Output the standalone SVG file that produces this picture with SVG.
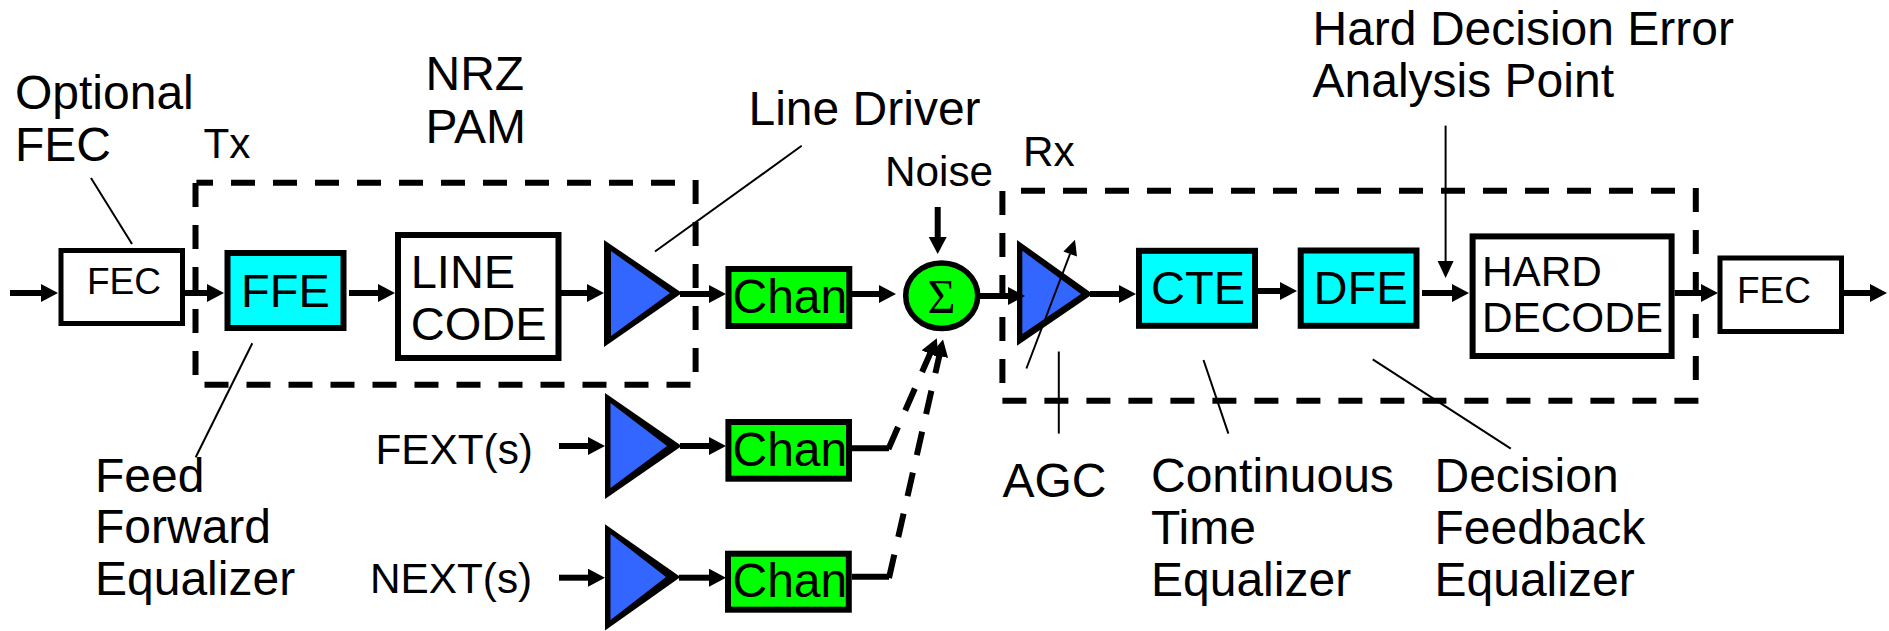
<svg xmlns="http://www.w3.org/2000/svg" width="1889" height="631" viewBox="0 0 1889 631">
<style>
text{font-family:"Liberation Sans",Arial,sans-serif;fill:#000}
.l{font-size:48px}.m{font-size:42.3px}.b{font-size:47px}.s{font-size:37px}
.box{stroke:#000;stroke-width:6;fill:#fff}
.thin{stroke:#000;stroke-width:5;fill:#fff}
.cy{fill:#0ff}.gr{fill:#0f0}
.to{fill:#000}.ti{fill:#36f}
.a{stroke:#000;stroke-width:6;fill:none}
.h{stroke:#000;stroke-width:2;fill:none}
.d{stroke:#000;stroke-width:6;fill:none;stroke-dasharray:24 18}
</style>
<defs>
<marker id="ah" markerUnits="userSpaceOnUse" markerWidth="20" markerHeight="20" refX="1" refY="9" orient="auto"><path d="M0 0L17 9L0 18z" fill="#000"/></marker>
<marker id="ai" markerUnits="userSpaceOnUse" markerWidth="20" markerHeight="20" refX="1" refY="8" orient="auto"><path d="M0 0L17 8L0 16z" fill="#000"/></marker>
</defs>
<g id="tx-boundary">
<path class="a" d="M196.4 182.7H213"/><path class="d" d="M231 182.7H676"/><path class="d" d="M204.5 384.7H691"/>
<path class="d" d="M195.5 183V375"/><path class="d" d="M695.6 180V373"/>
</g>
<g id="rx-boundary">
<path class="d" d="M1021 190.8H1676"/><path class="d" d="M1002.4 400.7H1699"/>
<path class="d" d="M1002.4 191V384"/><path class="d" d="M1695.8 188V380"/>
</g>
<g id="fec-tx"><rect class="thin" x="61" y="250.5" width="121.5" height="73"/><text class="s" x="87" y="294">FEC</text></g>
<g id="ffe"><rect class="box cy" x="227.5" y="253" width="116" height="75"/><text class="b" x="241" y="306.7">FFE</text></g>
<g id="line-code"><rect class="box" x="398" y="235" width="160.5" height="123"/><text class="b" x="410.7" y="288">LINE</text><text class="b" x="410.7" y="340">CODE</text></g>
<g id="driver"><path class="to" d="M604 240V347L682 293z"/><path class="ti" d="M611 251V336L670 293z"/></g>
<g id="chan-1"><rect class="box gr" x="728.5" y="269" width="120.8" height="57"/><text class="l" x="732.5" y="313">Chan</text></g>
<g id="sum"><ellipse cx="941.7" cy="295.7" rx="36" ry="32.8" fill="#0f0" stroke="#000" stroke-width="5.5"/><text x="941.5" y="313" text-anchor="middle" style="font-family:'Liberation Serif',serif;font-size:48px">Σ</text></g>
<g id="agc"><path class="to" d="M1017 240V345.8L1092.8 294z"/><path class="ti" d="M1022.3 250.8V334L1081 294z"/></g>
<g id="cte"><rect class="box cy" x="1139" y="250.8" width="116" height="75"/><text class="b" x="1151" y="304.4">CTE</text></g>
<g id="dfe"><rect class="box cy" x="1300.7" y="250.5" width="115.8" height="75.3"/><text class="b" x="1313.5" y="303.8">DFE</text></g>
<g id="hard-decode"><rect class="box" x="1472.6" y="236.4" width="199" height="119.6"/><text class="m" x="1482" y="285.7">HARD</text><text class="m" x="1482" y="332">DECODE</text></g>
<g id="fec-rx"><rect class="thin" x="1720" y="258" width="121.5" height="73.5"/><text class="s" x="1737" y="302.6">FEC</text></g>
<g id="driver-fext"><path class="to" d="M605 393V499L681.7 446z"/><path class="ti" d="M610.5 403V488L667 446z"/></g>
<g id="chan-2"><rect class="box gr" x="728.4" y="422" width="120.6" height="56.7"/><text class="l" x="732.5" y="466">Chan</text></g>
<g id="driver-next"><path class="to" d="M605 524.3V630.5L680.5 577z"/><path class="ti" d="M610.5 534V620L666 577z"/></g>
<g id="chan-3"><rect class="box gr" x="728" y="553.7" width="120.8" height="56"/><text class="l" x="732.5" y="597">Chan</text></g>
<g id="connectors">
<path class="a" marker-end="url(#ah)" d="M10 293H42"/>
<path class="a" marker-end="url(#ah)" d="M185 293H208"/>
<path class="a" marker-end="url(#ah)" d="M349 293H379"/>
<path class="a" marker-end="url(#ah)" d="M561 293H588"/>
<path class="a" marker-end="url(#ah)" d="M680 294H710"/>
<path class="a" marker-end="url(#ah)" d="M852 294H880"/>
<path class="a" marker-end="url(#ah)" d="M937.7 207V238"/>
<path class="a" marker-end="url(#ah)" d="M980 296H1009"/>
<path class="a" marker-end="url(#ah)" d="M1090 294H1120"/>
<path class="a" marker-end="url(#ah)" d="M1258 291H1281"/>
<path class="a" marker-end="url(#ah)" d="M1422 293H1453"/>
<path class="a" marker-end="url(#ah)" d="M1674.6 293H1702"/>
<path class="a" marker-end="url(#ah)" d="M1844 293H1871"/>
<path class="a" marker-end="url(#ah)" d="M559 446H589"/>
<path class="a" marker-end="url(#ah)" d="M680 446H710"/>
<path class="a" d="M852 448.3H889"/>
<path class="d" marker-end="url(#ah)" d="M888.4 449L930.4 353"/>
<path class="a" marker-end="url(#ah)" d="M559 577.7H589"/>
<path class="a" marker-end="url(#ah)" d="M679 577.7H710"/>
<path class="a" d="M852 576.7H889"/>
<path class="d" marker-end="url(#ah)" d="M889 578L939.5 355"/>
<path class="h" d="M91 178L132 244"/>
<path class="h" d="M252.3 343.3L195.7 457.3"/>
<path class="h" d="M655 251.5L801.7 145.8"/>
<path class="h" d="M1058.8 351.5V433.6"/>
<path class="h" d="M1203.5 360L1228.4 433.6"/>
<path class="h" d="M1372.7 359.4L1510.8 448.7"/>
<path class="h" marker-end="url(#ai)" d="M1445.6 125.6V262"/>
<path class="h" d="M1026.4 368.5L1070 254"/>
<path d="M1075 239.7L1063.4 251.5L1077 256.6z" fill="#000"/>
</g>
<g id="labels">
<text class="l" x="15" y="109">Optional</text><text class="l" x="15" y="161">FEC</text>
<text class="m" x="203.5" y="157.5">Tx</text>
<text class="l" x="425.5" y="90.3">NRZ</text><text class="l" x="425.5" y="142.7">PAM</text>
<text class="l" x="748.5" y="125.4">Line Driver</text>
<text class="m" x="885" y="186.3">Noise</text>
<text class="m" x="1023" y="165.9">Rx</text>
<text class="l" x="1312.5" y="45.3">Hard Decision Error</text><text class="l" x="1312.5" y="96.8">Analysis Point</text>
<text class="m" x="375.5" y="463.8">FEXT(s)</text>
<text class="m" x="370" y="592.8">NEXT(s)</text>
<text class="l" x="95" y="491.7">Feed</text><text class="l" x="95" y="543.3">Forward</text><text class="l" x="95" y="595">Equalizer</text>
<text class="l" x="1002.5" y="497.3">AGC</text>
<text class="l" x="1151" y="492">Continuous</text><text class="l" x="1151" y="544">Time</text><text class="l" x="1151" y="596">Equalizer</text>
<text class="l" x="1434.5" y="491.7">Decision</text><text class="l" x="1434.5" y="543.5">Feedback</text><text class="l" x="1434.5" y="595.5">Equalizer</text>
</g>
</svg>
